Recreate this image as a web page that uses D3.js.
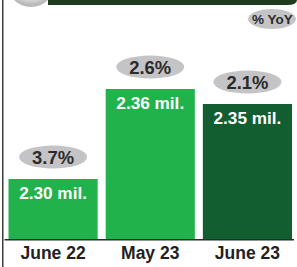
<!DOCTYPE html>
<html>
<head>
<meta charset="utf-8">
<script src="https://cdn.jsdelivr.net/npm/d3@7"></script>
<style>
  body { margin: 0; background: #fff; }
  svg { display: block; font-family: "Liberation Sans", Arial, sans-serif; }
</style>
</head>
<body>
<div id="chart"></div>
<script>
const width = 297;
const height = 267;

// data
const periods = ["June 22", "May 23", "June 23"];
const volumes = [2.30, 2.36, 2.35];      // mil.
const yoy = ["3.7%", "2.6%", "2.1%"];
const barColors = ["#22b24c", "#22b24c", "#125e31"];

const svg = d3.select("#chart").append("svg").attr("width", width).attr("height", height);

const defs = svg.append("defs");
const grad = defs.append("radialGradient").attr("id", "knob").attr("cx", "50%").attr("cy", "35%").attr("r", "60%");
grad.append("stop").attr("offset", "0%").attr("stop-color", "#ffffff");
grad.append("stop").attr("offset", "70%").attr("stop-color", "#f2f2f2");
grad.append("stop").attr("offset", "100%").attr("stop-color", "#b9b9b9");

// header strip (cut off at the top of the picture)
svg.append("path")
  .attr("d", "M48,0 H297 V0 Q297,5 287,5 H48 Z")
  .attr("fill", "#1f3b1e");
svg.append("circle").attr("cx", 31).attr("cy", -17).attr("r", 24).attr("fill", "url(#knob)");

// left rule
svg.append("rect").attr("x", 2).attr("y", 0).attr("width", 1.5).attr("height", height).attr("fill", "#3c3c3c");

// % YoY badge
svg.append("ellipse").attr("cx", 272).attr("cy", 19).attr("rx", 24).attr("ry", 10).attr("fill", "#c4c4c6");
svg.append("text").attr("x", 272.5).attr("y", 23.8).attr("text-anchor", "middle")
  .attr("font-size", 13.5).attr("font-weight", 700).attr("fill", "#2b2b2b").text("% YoY");

const x = d3.scaleBand().domain(periods).range([8.5, 292]).paddingInner(0.0825).paddingOuter(0);
const y = d3.scaleLinear().domain([2.26, 2.36]).range([239, 89]);

const g = svg.append("g");

g.selectAll("rect.bar")
  .data(periods)
  .join("rect")
  .attr("class", "bar")
  .attr("x", d => x(d))
  .attr("y", (d, i) => y(volumes[i]))
  .attr("width", x.bandwidth())
  .attr("height", (d, i) => y(2.26) - y(volumes[i]))
  .attr("fill", (d, i) => barColors[i]);

g.selectAll("text.vol")
  .data(periods)
  .join("text")
  .attr("class", "vol")
  .attr("x", d => x(d) + x.bandwidth() / 2)
  .attr("y", (d, i) => y(volumes[i]) + 19.5)
  .attr("text-anchor", "middle")
  .attr("font-size", 17.2)
  .attr("font-weight", 700)
  .attr("fill", "#fff")
  .text((d, i) => volumes[i].toFixed(2) + " mil.");

g.selectAll("ellipse.yoy")
  .data(periods)
  .join("ellipse")
  .attr("class", "yoy")
  .attr("cx", d => x(d) + x.bandwidth() / 2)
  .attr("cy", (d, i) => y(volumes[i]) - 22)
  .attr("rx", 34)
  .attr("ry", 11.5)
  .attr("fill", "#c4c4c6");

g.selectAll("text.yoy")
  .data(periods)
  .join("text")
  .attr("class", "yoy")
  .attr("x", d => x(d) + x.bandwidth() / 2)
  .attr("y", (d, i) => y(volumes[i]) - 15.5)
  .attr("text-anchor", "middle")
  .attr("font-size", 18.4)
  .attr("font-weight", 700)
  .attr("fill", "#2b2b2b")
  .text((d, i) => yoy[i]);

// baseline + category labels
const xAxis = d3.axisBottom(x).tickSize(0).tickPadding(8);
const ax = svg.append("g").attr("transform", `translate(0,${y(2.26)})`).call(xAxis);
ax.select(".domain").remove();
ax.selectAll("text")
  .attr("font-family", "'Liberation Sans', Arial, sans-serif")
  .attr("font-size", 17.5)
  .attr("font-weight", 700)
  .attr("fill", "#222");
svg.append("line")
  .attr("x1", 4.5).attr("x2", 294)
  .attr("y1", y(2.26) + 0.75).attr("y2", y(2.26) + 0.75)
  .attr("stroke", "#2b2b2b").attr("stroke-width", 1.5);
</script>
</body>
</html>
